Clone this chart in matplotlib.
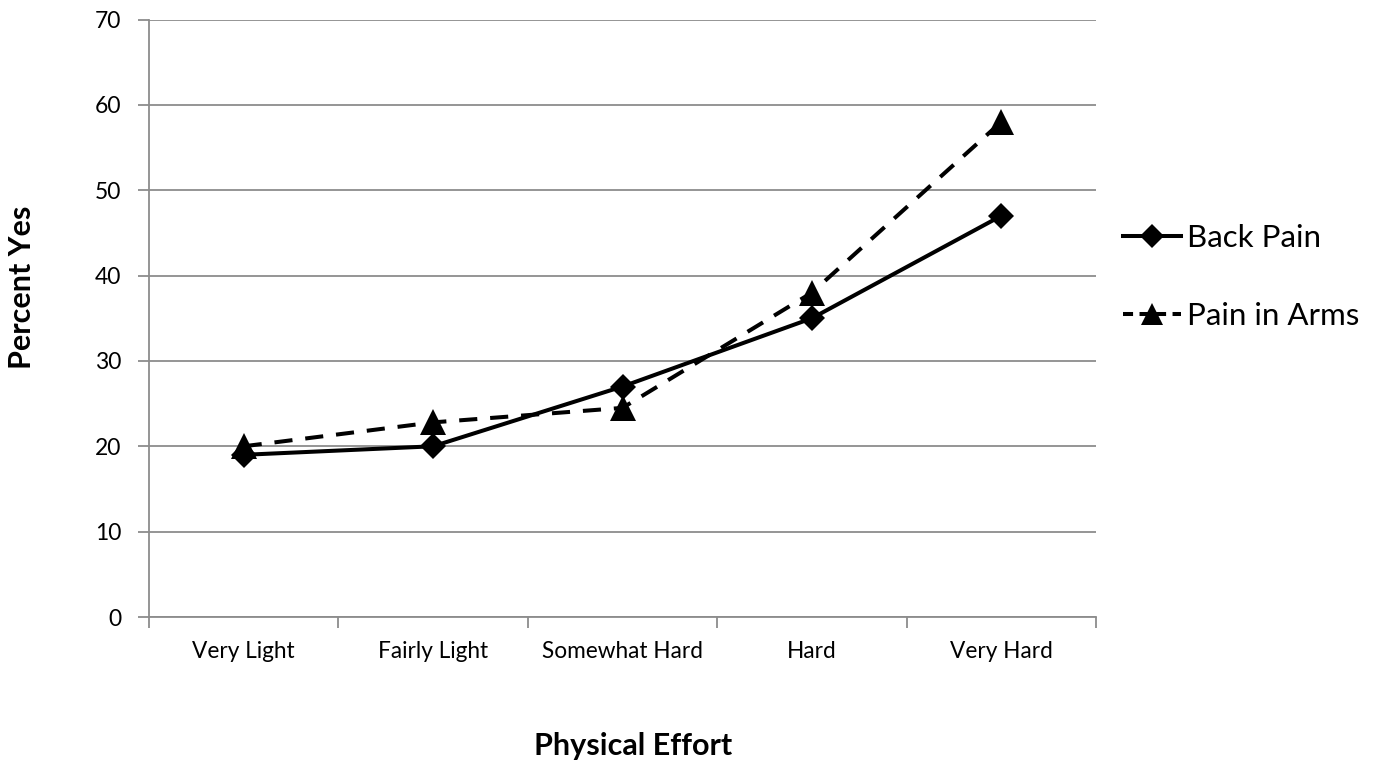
import matplotlib
matplotlib.use("Agg")
import matplotlib.pyplot as plt
from matplotlib.lines import Line2D
import numpy as np

plt.rcParams['font.family'] = ['Lato', 'DejaVu Sans']

categories = ["Very Light", "Fairly Light", "Somewhat Hard", "Hard", "Very Hard"]
back_pain = [19, 20, 27, 35, 47]
pain_in_arms = [20, 22.8, 24.5, 38, 58]
y_ticks = [0, 10, 20, 30, 40, 50, 60, 70]

grid_color = "#8c8c8c"

fig = plt.figure(figsize=(13.76, 7.67), dpi=100)
ax = fig.add_axes([149 / 1376, 1 - 617 / 767, (1096 - 149) / 1376, (617 - 19.5) / 767])

x = np.arange(len(categories))
dash = (0, (4.5, 3.2))

ax.plot(x, pain_in_arms, color="black", lw=2.9, linestyle=dash,
        marker="^", ms=19, mew=0, zorder=3)
ax.plot(x, back_pain, color="black", lw=2.9, linestyle="-",
        marker="D", ms=13.5, mew=0, zorder=4)

ax.set_xlim(-0.5, len(categories) - 0.5)
ax.set_ylim(0, 70)
ax.set_yticks(y_ticks)
ax.set_yticklabels([str(v) for v in y_ticks])

# category labels centred between boundary tick marks
ax.set_xticks(np.arange(-0.5, len(categories), 1.0))
ax.set_xticklabels([])
ax.set_xticks(x, minor=True)
ax.set_xticklabels(categories, minor=True)
ax.tick_params(axis="x", which="minor", length=0, pad=17, labelsize=16.3)
ax.tick_params(axis="x", which="major", length=8, width=1.3, color=grid_color)
ax.tick_params(axis="y", length=8, width=1.3, color=grid_color, pad=12, labelsize=16.5)

ax.yaxis.grid(True, color=grid_color, lw=1.3)
ax.set_axisbelow(True)
for side in ("top", "right"):
    ax.spines[side].set_visible(False)
for side in ("left", "bottom"):
    ax.spines[side].set_color(grid_color)
    ax.spines[side].set_linewidth(1.3)

fig.text(22 / 1376, 1 - 287 / 767, "Percent Yes", rotation=90, ha="center", va="center",
         fontsize=22, fontweight="bold")
fig.text(633 / 1376, 1 - 746 / 767, "Physical Effort", ha="center", va="center",
         fontsize=22, fontweight="bold")

handles = [
    Line2D([], [], color="black", lw=2.9, linestyle="-", marker="D", ms=12, mew=0),
    Line2D([], [], color="black", lw=2.9, linestyle=(0, (2.5, 1.6)), marker="^", ms=16, mew=0),
]
leg = ax.legend(handles, ["Back Pain", "Pain in Arms"], loc="center left",
                bbox_to_anchor=(1123 / 1376, 1 - 277 / 767), bbox_transform=fig.transFigure,
                frameon=False, fontsize=22.5, handlelength=1.85, handletextpad=0.2,
                labelspacing=1.6, borderaxespad=0, borderpad=0)

fig.savefig("out.png", dpi=100)
